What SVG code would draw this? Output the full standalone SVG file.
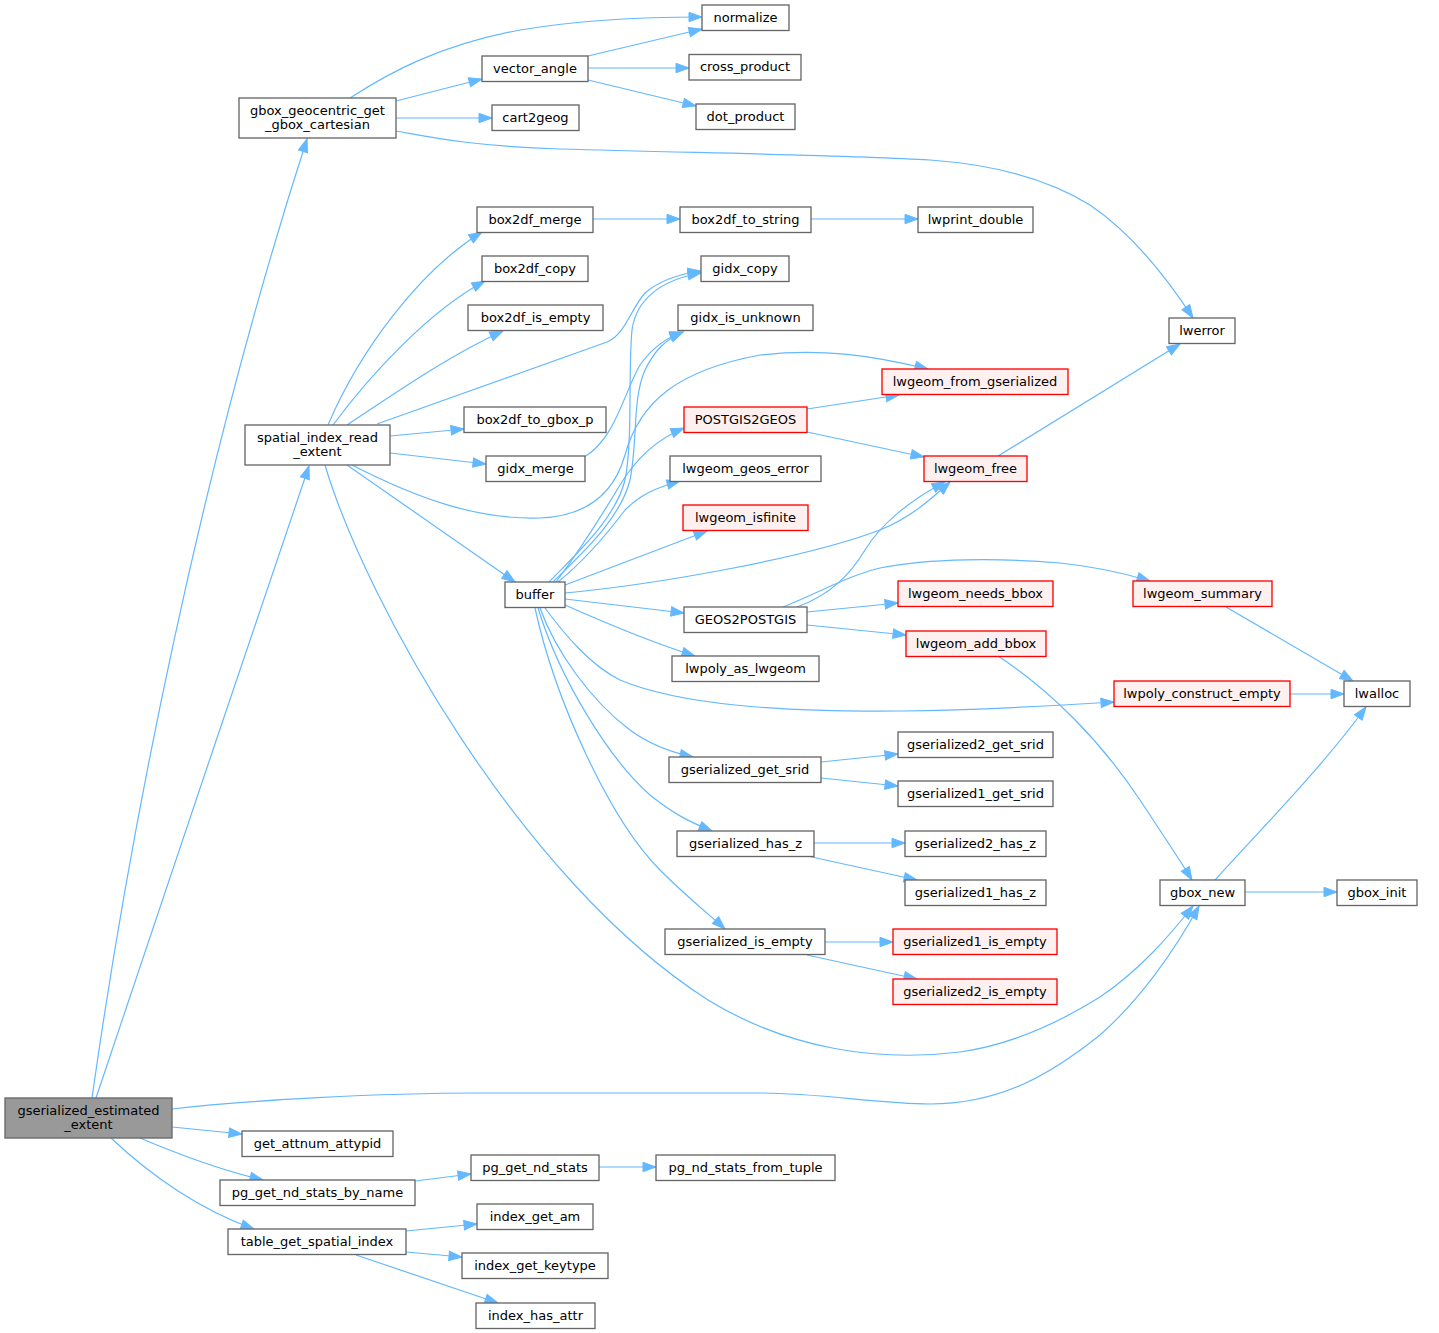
<svg xmlns="http://www.w3.org/2000/svg" width="1439" height="1333" viewBox="0 0 1439 1333">
<style>
.n rect{fill:#ffffff;stroke:#666666;stroke-width:1.33}
.r rect{fill:#fff0f0;stroke:#ff0000;stroke-width:1.33}
.g rect{fill:#999999;stroke:#666666;stroke-width:1.33}
text{font-family:"DejaVu Sans",sans-serif;font-size:13px;text-anchor:middle;fill:#000000}
#edges path{fill:none;stroke:#63b8ff;stroke-width:1.2;marker-end:url(#a)}
</style>
<defs>
<marker id="a" markerUnits="userSpaceOnUse" markerWidth="14" markerHeight="10" refX="13" refY="4.7" orient="auto" overflow="visible">
<path d="M0,0 L13,4.7 L0,9.4 z" fill="#63b8ff" stroke="#63b8ff" stroke-width="1"/>
</marker>
</defs>
<rect width="1439" height="1333" fill="#ffffff"/>
<g id="edges">
<path d="M92,1098 C130,830 200,470 307,139"/>
<path d="M96,1098 C130,995 250,640 309,466"/>
<path d="M172,1109 C250,1100 380,1093 480,1093 L760,1093 C820,1093 880,1104 930,1104 C1000,1104 1050,1075 1100,1035 C1140,1000 1175,950 1199,906"/>
<path d="M172,1127 L242,1134"/>
<path d="M140,1138 C180,1155 220,1170 263,1180"/>
<path d="M111,1138 C150,1175 200,1210 254,1229"/>
<path d="M350,98 C390,72 440,45 520,30 C580,20 640,17 702,17"/>
<path d="M396,101 L482,79"/>
<path d="M396,118 L492,118"/>
<path d="M396,131 C430,137 470,146 560,149 C700,153 850,155 930,160 C1000,165 1050,180 1090,205 C1130,232 1165,275 1193,318"/>
<path d="M588,56 L702,29"/>
<path d="M588,68 L689,68"/>
<path d="M588,80 L696,106"/>
<path d="M328,425 C360,350 420,270 482,232"/>
<path d="M333,425 C370,375 430,310 485,281"/>
<path d="M347,425 C400,390 450,355 503,331"/>
<path d="M377,424 L607,342 C625,335 630,310 645,293 C660,280 680,274 701,271"/>
<path d="M390,436 L464,429"/>
<path d="M390,453 L486,464"/>
<path d="M347,465 L515,582"/>
<path d="M352,465 C420,500 480,520 540,518 C590,516 615,490 625,455 C640,400 680,370 760,355 C820,348 870,355 928,369"/>
<path d="M325,465 C365,600 520,880 708,1000 C790,1050 880,1062 960,1052 C1010,1045 1060,1022 1100,997 C1140,970 1170,935 1193,906"/>
<path d="M593,219 L680,219"/>
<path d="M811,219 L918,219"/>
<path d="M584,457 C615,440 625,390 640,365 C652,348 665,338 683,332"/>
<path d="M549,582 C575,555 615,520 625,480 C633,440 628,370 632,330 C636,300 660,280 701,273"/>
<path d="M553,582 C580,555 620,520 630,480 C638,440 632,400 645,370 C655,350 665,340 683,332"/>
<path d="M556,582 C580,550 605,510 620,485 C635,460 655,440 684,428"/>
<path d="M558,582 C585,560 610,530 625,510 C640,495 655,488 680,481"/>
<path d="M565,585 L707,531"/>
<path d="M565,593 C650,585 800,560 880,530 C910,518 930,500 950,482"/>
<path d="M565,599 L684,613"/>
<path d="M565,605 C610,625 660,645 695,656"/>
<path d="M545,608 C565,635 590,665 620,680 C680,705 780,712 900,711 C980,710 1050,706 1114,702"/>
<path d="M540,608 C555,650 590,700 630,730 C650,745 670,752 693,757"/>
<path d="M538,608 C560,680 610,760 650,795 C675,815 690,822 712,831"/>
<path d="M535,608 C555,700 610,820 660,870 C690,900 710,915 725,929"/>
<path d="M807,612 L898,603"/>
<path d="M807,625 L906,635"/>
<path d="M797,607 C830,595 850,575 865,550 C880,525 910,500 945,482"/>
<path d="M783,607 C820,592 850,575 880,568 C930,558 1000,558 1060,563 C1090,566 1120,572 1150,581"/>
<path d="M807,409 L899,395"/>
<path d="M807,432 L924,457"/>
<path d="M998,456 L1180,344"/>
<path d="M821,762 L898,754"/>
<path d="M821,778 L898,786"/>
<path d="M814,843 L905,843"/>
<path d="M807,856 L917,880"/>
<path d="M825,942 L893,942"/>
<path d="M807,955 L917,979"/>
<path d="M1226,607 L1353,681"/>
<path d="M1290,694 L1344,694"/>
<path d="M998,656 C1050,690 1100,740 1140,800 C1165,838 1180,860 1192,880"/>
<path d="M1215,880 C1260,830 1320,770 1366,707"/>
<path d="M1245,892 L1337,892"/>
<path d="M415,1181 L471,1174"/>
<path d="M599,1167 L656,1167"/>
<path d="M406,1231 L477,1224"/>
<path d="M406,1252 L462,1257"/>
<path d="M356,1255 L498,1303"/>
</g>
<g id="n1" class="g"><rect x="5" y="1098" width="167" height="40"/><text x="88.5" y="1114.6">gserialized_estimated</text><text x="88.5" y="1129.3">_extent</text></g>
<g id="n2" class="n"><rect x="239" y="98" width="157" height="40"/><text x="317.5" y="114.6">gbox_geocentric_get</text><text x="317.5" y="129.3">_gbox_cartesian</text></g>
<g id="n3" class="n"><rect x="245" y="425" width="145" height="40"/><text x="317.5" y="441.6">spatial_index_read</text><text x="317.5" y="456.3">_extent</text></g>
<g id="n4" class="n"><rect x="242" y="1131" width="151" height="25.5"/><text x="317.5" y="1147.8">get_attnum_attypid</text></g>
<g id="n5" class="n"><rect x="220" y="1180" width="195" height="25.5"/><text x="317.5" y="1196.8">pg_get_nd_stats_by_name</text></g>
<g id="n6" class="n"><rect x="228" y="1229" width="178" height="25.5"/><text x="317" y="1245.8">table_get_spatial_index</text></g>
<g id="n7" class="n"><rect x="702" y="5" width="87" height="25.5"/><text x="745.5" y="21.8">normalize</text></g>
<g id="n8" class="n"><rect x="482" y="56" width="106" height="25.5"/><text x="535" y="72.8">vector_angle</text></g>
<g id="n9" class="n"><rect x="492" y="105" width="87" height="25.5"/><text x="535.5" y="121.8">cart2geog</text></g>
<g id="n10" class="n"><rect x="1169" y="318" width="66" height="25.5"/><text x="1202" y="334.8">lwerror</text></g>
<g id="n11" class="n"><rect x="689" y="54.5" width="112" height="25.5"/><text x="745" y="71.3">cross_product</text></g>
<g id="n12" class="n"><rect x="696" y="104" width="99" height="25.5"/><text x="745.5" y="120.8">dot_product</text></g>
<g id="n13" class="n"><rect x="477" y="207" width="116" height="25.5"/><text x="535" y="223.8">box2df_merge</text></g>
<g id="n14" class="n"><rect x="482" y="256" width="106" height="25.5"/><text x="535" y="272.8">box2df_copy</text></g>
<g id="n15" class="n"><rect x="468" y="305" width="135" height="25.5"/><text x="535.5" y="321.8">box2df_is_empty</text></g>
<g id="n16" class="n"><rect x="464" y="407" width="142" height="25.5"/><text x="535" y="423.8">box2df_to_gbox_p</text></g>
<g id="n17" class="n"><rect x="486" y="456" width="99" height="25.5"/><text x="535.5" y="472.8">gidx_merge</text></g>
<g id="n18" class="n"><rect x="505" y="582" width="60" height="25.5"/><text x="535" y="598.8">buffer</text></g>
<g id="n19" class="n"><rect x="701" y="256" width="88" height="25.5"/><text x="745" y="272.8">gidx_copy</text></g>
<g id="n20" class="n"><rect x="678" y="305" width="135" height="25.5"/><text x="745.5" y="321.8">gidx_is_unknown</text></g>
<g id="n21" class="n"><rect x="680" y="207" width="131" height="25.5"/><text x="745.5" y="223.8">box2df_to_string</text></g>
<g id="n22" class="n"><rect x="918" y="207" width="115" height="25.5"/><text x="975.5" y="223.8">lwprint_double</text></g>
<g id="n23" class="r"><rect x="882" y="369" width="186" height="25.5"/><text x="975" y="385.8">lwgeom_from_gserialized</text></g>
<g id="n24" class="r"><rect x="684" y="407" width="123" height="25.5"/><text x="745.5" y="423.8">POSTGIS2GEOS</text></g>
<g id="n25" class="n"><rect x="670" y="456" width="151" height="25.5"/><text x="745.5" y="472.8">lwgeom_geos_error</text></g>
<g id="n26" class="r"><rect x="683" y="505" width="125" height="25.5"/><text x="745.5" y="521.8">lwgeom_isfinite</text></g>
<g id="n27" class="n"><rect x="684" y="607" width="123" height="25.5"/><text x="745.5" y="623.8">GEOS2POSTGIS</text></g>
<g id="n28" class="n"><rect x="672" y="656" width="147" height="25.5"/><text x="745.5" y="672.8">lwpoly_as_lwgeom</text></g>
<g id="n29" class="n"><rect x="669" y="757" width="152" height="25.5"/><text x="745" y="773.8">gserialized_get_srid</text></g>
<g id="n30" class="n"><rect x="677" y="831" width="137" height="25.5"/><text x="745.5" y="847.8">gserialized_has_z</text></g>
<g id="n31" class="n"><rect x="665" y="929" width="160" height="25.5"/><text x="745" y="945.8">gserialized_is_empty</text></g>
<g id="n32" class="r"><rect x="924" y="456" width="103" height="25.5"/><text x="975.5" y="472.8">lwgeom_free</text></g>
<g id="n33" class="r"><rect x="898" y="581" width="155" height="25.5"/><text x="975.5" y="597.8">lwgeom_needs_bbox</text></g>
<g id="n34" class="r"><rect x="906" y="631" width="140" height="25.5"/><text x="976" y="647.8">lwgeom_add_bbox</text></g>
<g id="n35" class="r"><rect x="1133" y="581" width="139" height="25.5"/><text x="1202.5" y="597.8">lwgeom_summary</text></g>
<g id="n36" class="r"><rect x="1114" y="681" width="176" height="25.5"/><text x="1202" y="697.8">lwpoly_construct_empty</text></g>
<g id="n37" class="n"><rect x="1344" y="681" width="66" height="25.5"/><text x="1377" y="697.8">lwalloc</text></g>
<g id="n38" class="n"><rect x="898" y="732" width="155" height="25.5"/><text x="975.5" y="748.8">gserialized2_get_srid</text></g>
<g id="n39" class="n"><rect x="898" y="781" width="155" height="25.5"/><text x="975.5" y="797.8">gserialized1_get_srid</text></g>
<g id="n40" class="n"><rect x="905" y="831" width="141" height="25.5"/><text x="975.5" y="847.8">gserialized2_has_z</text></g>
<g id="n41" class="n"><rect x="905" y="880" width="141" height="25.5"/><text x="975.5" y="896.8">gserialized1_has_z</text></g>
<g id="n42" class="r"><rect x="893" y="929" width="164" height="25.5"/><text x="975" y="945.8">gserialized1_is_empty</text></g>
<g id="n43" class="r"><rect x="893" y="979" width="164" height="25.5"/><text x="975" y="995.8">gserialized2_is_empty</text></g>
<g id="n44" class="n"><rect x="1160" y="880" width="85" height="25.5"/><text x="1202.5" y="896.8">gbox_new</text></g>
<g id="n45" class="n"><rect x="1337" y="880" width="80" height="25.5"/><text x="1377" y="896.8">gbox_init</text></g>
<g id="n46" class="n"><rect x="471" y="1155" width="128" height="25.5"/><text x="535" y="1171.8">pg_get_nd_stats</text></g>
<g id="n47" class="n"><rect x="656" y="1155" width="179" height="25.5"/><text x="745.5" y="1171.8">pg_nd_stats_from_tuple</text></g>
<g id="n48" class="n"><rect x="477" y="1204" width="116" height="25.5"/><text x="535" y="1220.8">index_get_am</text></g>
<g id="n49" class="n"><rect x="462" y="1253" width="146" height="25.5"/><text x="535" y="1269.8">index_get_keytype</text></g>
<g id="n50" class="n"><rect x="476" y="1303" width="119" height="25.5"/><text x="535.5" y="1319.8">index_has_attr</text></g>
</svg>
